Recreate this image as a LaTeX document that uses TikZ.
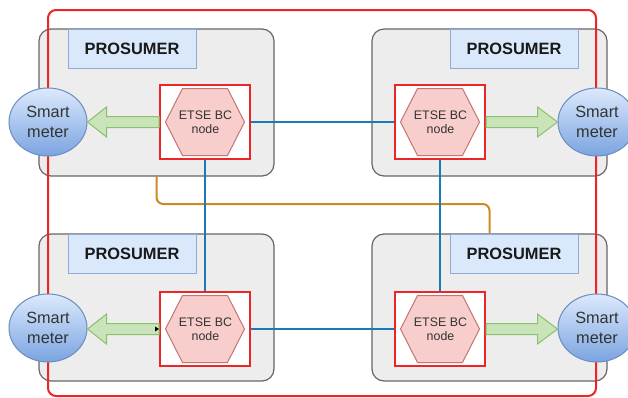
\documentclass[tikz,border=0pt]{standalone}
\usepackage{fontspec}
\setmainfont{Liberation Sans}
\usetikzlibrary{calc,shapes.geometric}
\definecolor{redc}{RGB}{236,38,38}
\definecolor{grayfill}{HTML}{EDEDED}
\definecolor{graydraw}{HTML}{666666}
\definecolor{lblfill}{HTML}{DAE8FC}
\definecolor{lbldraw}{HTML}{8FAAD3}
\definecolor{hexfill}{HTML}{F8CECC}
\definecolor{hexdraw}{HTML}{C77470}
\definecolor{arrfill}{HTML}{C8E4B8}
\definecolor{arrdraw}{HTML}{8CBF6E}
\definecolor{smtop}{HTML}{DCE9FC}
\definecolor{smbot}{HTML}{7AA4E0}
\definecolor{smdraw}{HTML}{6C8EBF}
\definecolor{bluel}{HTML}{1B7AB6}
\definecolor{orangel}{HTML}{CC8A22}
\definecolor{txt}{HTML}{333333}
\tikzset{
  probox/.style={draw=graydraw, fill=grayfill, line width=0.9pt, rounded corners=9pt,
    minimum width=176.25pt, minimum height=110.25pt, inner sep=0pt},
  lblbox/.style={draw=lbldraw, fill=lblfill, line width=0.75pt,
    minimum width=96pt, minimum height=29.25pt, inner sep=0pt,
    font=\fontsize{12.3pt}{14pt}\selectfont\bfseries, text=black!90},
  redsq/.style={draw=redc, fill=white, line width=1.5pt,
    minimum width=67.5pt, minimum height=55.5pt, inner sep=0pt},
  hextext/.style={inner sep=0pt, align=center, text=txt,
    font=\fontsize{9.3pt}{10.8pt}\selectfont},
  hexshape/.style={draw=hexdraw, fill=hexfill, line width=0.75pt},
  meter/.style={ellipse, draw=smdraw, line width=0.75pt, top color=smtop, bottom color=smbot,
    minimum width=58.5pt, minimum height=51pt, inner sep=0pt, align=center, text=txt,
    font=\fontsize{12.2pt}{14.5pt}\selectfont},
  fatarrow/.style={draw=arrdraw, fill=arrfill, line width=0.75pt, line join=miter},
  outer/.style={draw=redc, line width=1.5pt, rounded corners=6pt},
  blueline/.style={draw=bluel, line width=1.5pt},
  orangeline/.style={draw=orangel, line width=1.5pt, rounded corners=5pt}
}
\newcommand{\hexat}[1]{%
  \path[hexshape] ($(#1)+(-39.5,0)$) -- ($(#1)+(-22.5,-33.5)$) -- ($(#1)+(22.5,-33.5)$)
    -- ($(#1)+(39.5,0)$) -- ($(#1)+(22.5,33.5)$) -- ($(#1)+(-22.5,33.5)$) -- cycle;}
% left-pointing arrow from node a (west) to node b (east)
\newcommand{\arrowleft}[2]{%
  \coordinate (tip) at (#2.east |- #1.west);
  \path[fatarrow] ($(#1.west)+(0,-5.5)$) -- ($(tip)+(19,-5.5)$) -- ($(tip)+(19,-15)$)
    -- (tip) -- ($(tip)+(19,15)$) -- ($(tip)+(19,5.5)$) -- ($(#1.west)+(0,5.5)$) -- cycle;}
\newcommand{\arrowright}[2]{%
  \coordinate (tip) at (#2.west |- #1.east);
  \path[fatarrow] ($(#1.east)+(0,-5.5)$) -- ($(tip)+(-20,-5.5)$) -- ($(tip)+(-20,-15)$)
    -- (tip) -- ($(tip)+(-20,15)$) -- ($(tip)+(-20,5.5)$) -- ($(#1.east)+(0,5.5)$) -- cycle;}
\begin{document}
\begin{tikzpicture}[x=0.75pt, y=-0.75pt]
\useasboundingbox (0,0) rectangle (628,397);
% prosumer boxes
\node[probox] (bTL) at (156.5,102.5) {};
\node[probox] (bTR) at (489.5,102.5) {};
\node[probox] (bBL) at (156.5,307.5) {};
\node[probox] (bBR) at (489.5,307.5) {};
% labels
\node[lblbox] (lTL) at (132,48.5) {PROSUMER};
\node[lblbox] (lTR) at (514,48.5) {PROSUMER};
\node[lblbox] (lBL) at (132,253.5) {PROSUMER};
\node[lblbox] (lBR) at (514,253.5) {PROSUMER};
% red squares
\node[redsq] (sTL) at (205,122) {};
\node[redsq] (sTR) at (440,122) {};
\node[redsq] (sBL) at (205,329) {};
\node[redsq] (sBR) at (440,329) {};
% orange connector
\coordinate (oc) at (0,204);
\draw[orangeline] (bTL.south) -- (bTL.south |- oc) -- (bBR.north |- oc) -- (bBR.north);
% blue connectors
\draw[blueline] (sTL.east) -- (sTR.west);
\draw[blueline] (sBL.east) -- (sBR.west);
\draw[blueline] (sTL.south) -- (sBL.north);
\draw[blueline] (sTR.south) -- (sBR.north);
% outer red frame
\draw[outer] (48,10) rectangle (596,396);
% red squares on top
\node[redsq] at (sTL) {};
\node[redsq] at (sTR) {};
\node[redsq] at (sBL) {};
\node[redsq] at (sBR) {};
% hexagons
\hexat{sTL}\hexat{sTR}\hexat{sBL}\hexat{sBR}
\node[hextext] (hTL) at (205.5,122) {ETSE BC\\node};
\node[hextext] (hTR) at (440.5,122) {ETSE BC\\node};
\node[hextext] (hBL) at (205.5,329) {ETSE BC\\node};
\node[hextext] (hBR) at (440.5,329) {ETSE BC\\node};
% smart meters
\node[meter] (mTL) at (48,122) {Smart\\meter};
\node[meter] (mTR) at (597,122) {Smart\\meter};
\node[meter] (mBL) at (48,328) {Smart\\meter};
\node[meter] (mBR) at (597,328) {Smart\\meter};
% fat arrows
\arrowleft{sTL}{mTL}
\arrowleft{sBL}{mBL}
\arrowright{sTR}{mTR}
\arrowright{sBR}{mBR}
% small black tip on bottom-left arrow
\fill[black] (sBL.west) -- ++(-4,-2.5) -- ++(0,5) -- cycle;
\end{tikzpicture}
\end{document}
